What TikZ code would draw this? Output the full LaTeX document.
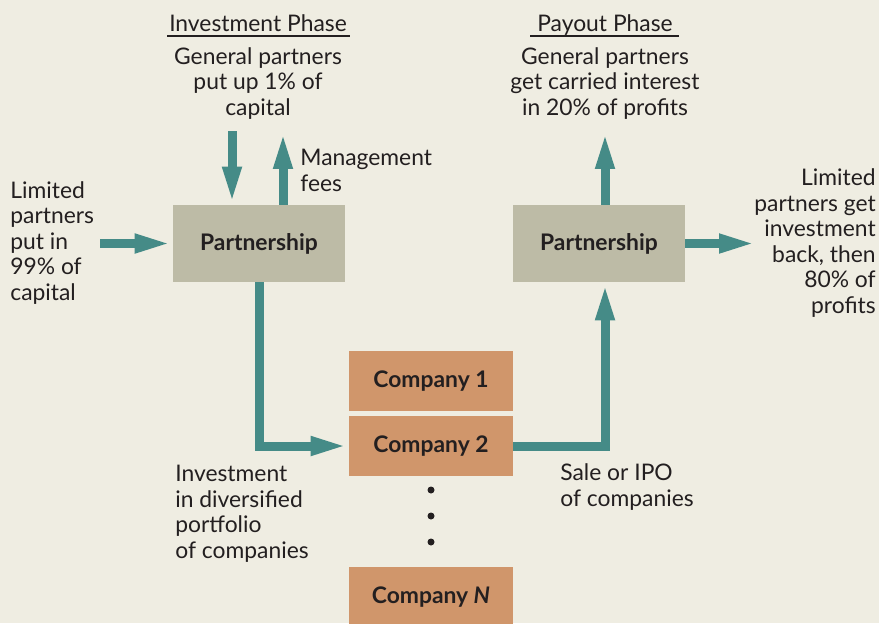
\documentclass[tikz,border=0pt]{standalone}
\usepackage{fontspec}
\setmainfont{Lato}
\usetikzlibrary{arrows.meta}

\definecolor{bgbeige}{HTML}{EFEDE2}
\definecolor{partfill}{HTML}{BDBBA6}
\definecolor{compfill}{HTML}{D0966B}
\definecolor{flowteal}{HTML}{458B87}
\definecolor{inkgray}{HTML}{231F20}

\begin{document}
\begin{tikzpicture}[x=0.02cm, y=-0.02cm,
    every node/.style={text=inkgray, font=\fontsize{13}{14.5}\selectfont},
    partnode/.style={fill=partfill, minimum width=3.44cm, minimum height=1.54cm,
      font=\fontsize{13}{14.5}\selectfont\bfseries},
    compnode/.style={fill=compfill, minimum width=3.28cm, minimum height=1.2cm,
      font=\fontsize{13}{14.5}\selectfont\bfseries},
    flow/.style={draw=flowteal, line width=0.18cm, line join=miter,
      -{Triangle[length=0.76cm, width=0.34cm]}},
    note/.style={inner sep=0pt}]
      \fill[bgbeige] (0,0) rectangle (879,623);
      \clip (0,0) rectangle (879,623);

      % phase headings
      \node[note, anchor=base] (invph) at (258,31) {Investment Phase};
      \node[note, anchor=base] (payph) at (605,31) {Payout Phase};
      \draw[inkgray, line width=0.6pt] (167,36) -- (350,36);
      \draw[inkgray, line width=0.6pt] (530,36) -- (679,36);

      % boxes
      \node[partnode] (pl) at (259,243.5) {Partnership};
      \node[partnode] (pr) at (599,243.5) {Partnership};
      \node[compnode] (c1) at (431,381) {Company 1};
      \node[compnode] (c2) at (431,446) {Company 2};
      \node[compnode] (cn) at (431,597) {Company \textit{N}};
      \foreach \y in {490,516,542}
        \fill[inkgray] (431,\y) circle (0.07cm);

      % texts (base = baseline of last line)
      \node[note, anchor=base, align=center] (gpin) at (258,115)
        {General partners\\put up 1\% of\\capital};
      \node[note, anchor=base, align=center] (gpout) at (605,115)
        {General partners\\get carried interest\\in 20\% of profits};
      \node[note, anchor=base west, align=left] (mgmt) at (300,191)
        {Management\\fees};
      \node[note, anchor=base west, align=left] (lpin) at (10,300)
        {Limited\\partners\\put in\\99\% of\\capital};
      \node[note, anchor=base east, align=right] (lpout) at (876,313)
        {Limited\\partners get\\investment\\back, then\\80\% of\\profits};
      \node[note, anchor=base west, align=left] (invtxt) at (175,558)
        {Investment\\in diversified\\portfolio\\of companies};
      \node[note, anchor=base west, align=left] (saletxt) at (560,506)
        {Sale or IPO\\of companies};

      % flows
      \coordinate (gpdown) at (232,131);
      \coordinate (feesup) at (283,131);
      \coordinate (lpstart) at (100,243.5);
      \coordinate (carryup) at (605,131);
      \coordinate (lpend) at (757,243.5);
      \draw[flow] (gpdown) -- (gpdown |- pl.north);
      \draw[flow] (feesup |- pl.north) -- (feesup);
      \draw[flow] (lpstart) -- (pl.west);
      \draw[flow] (pl.south) |- (c2.west);
      \draw[flow] (c2.east) -| (carryup |- pr.south);
      \draw[flow] (carryup |- pr.north) -- (carryup);
      \draw[flow] (pr.east) -- (lpend);
\end{tikzpicture}
\end{document}
